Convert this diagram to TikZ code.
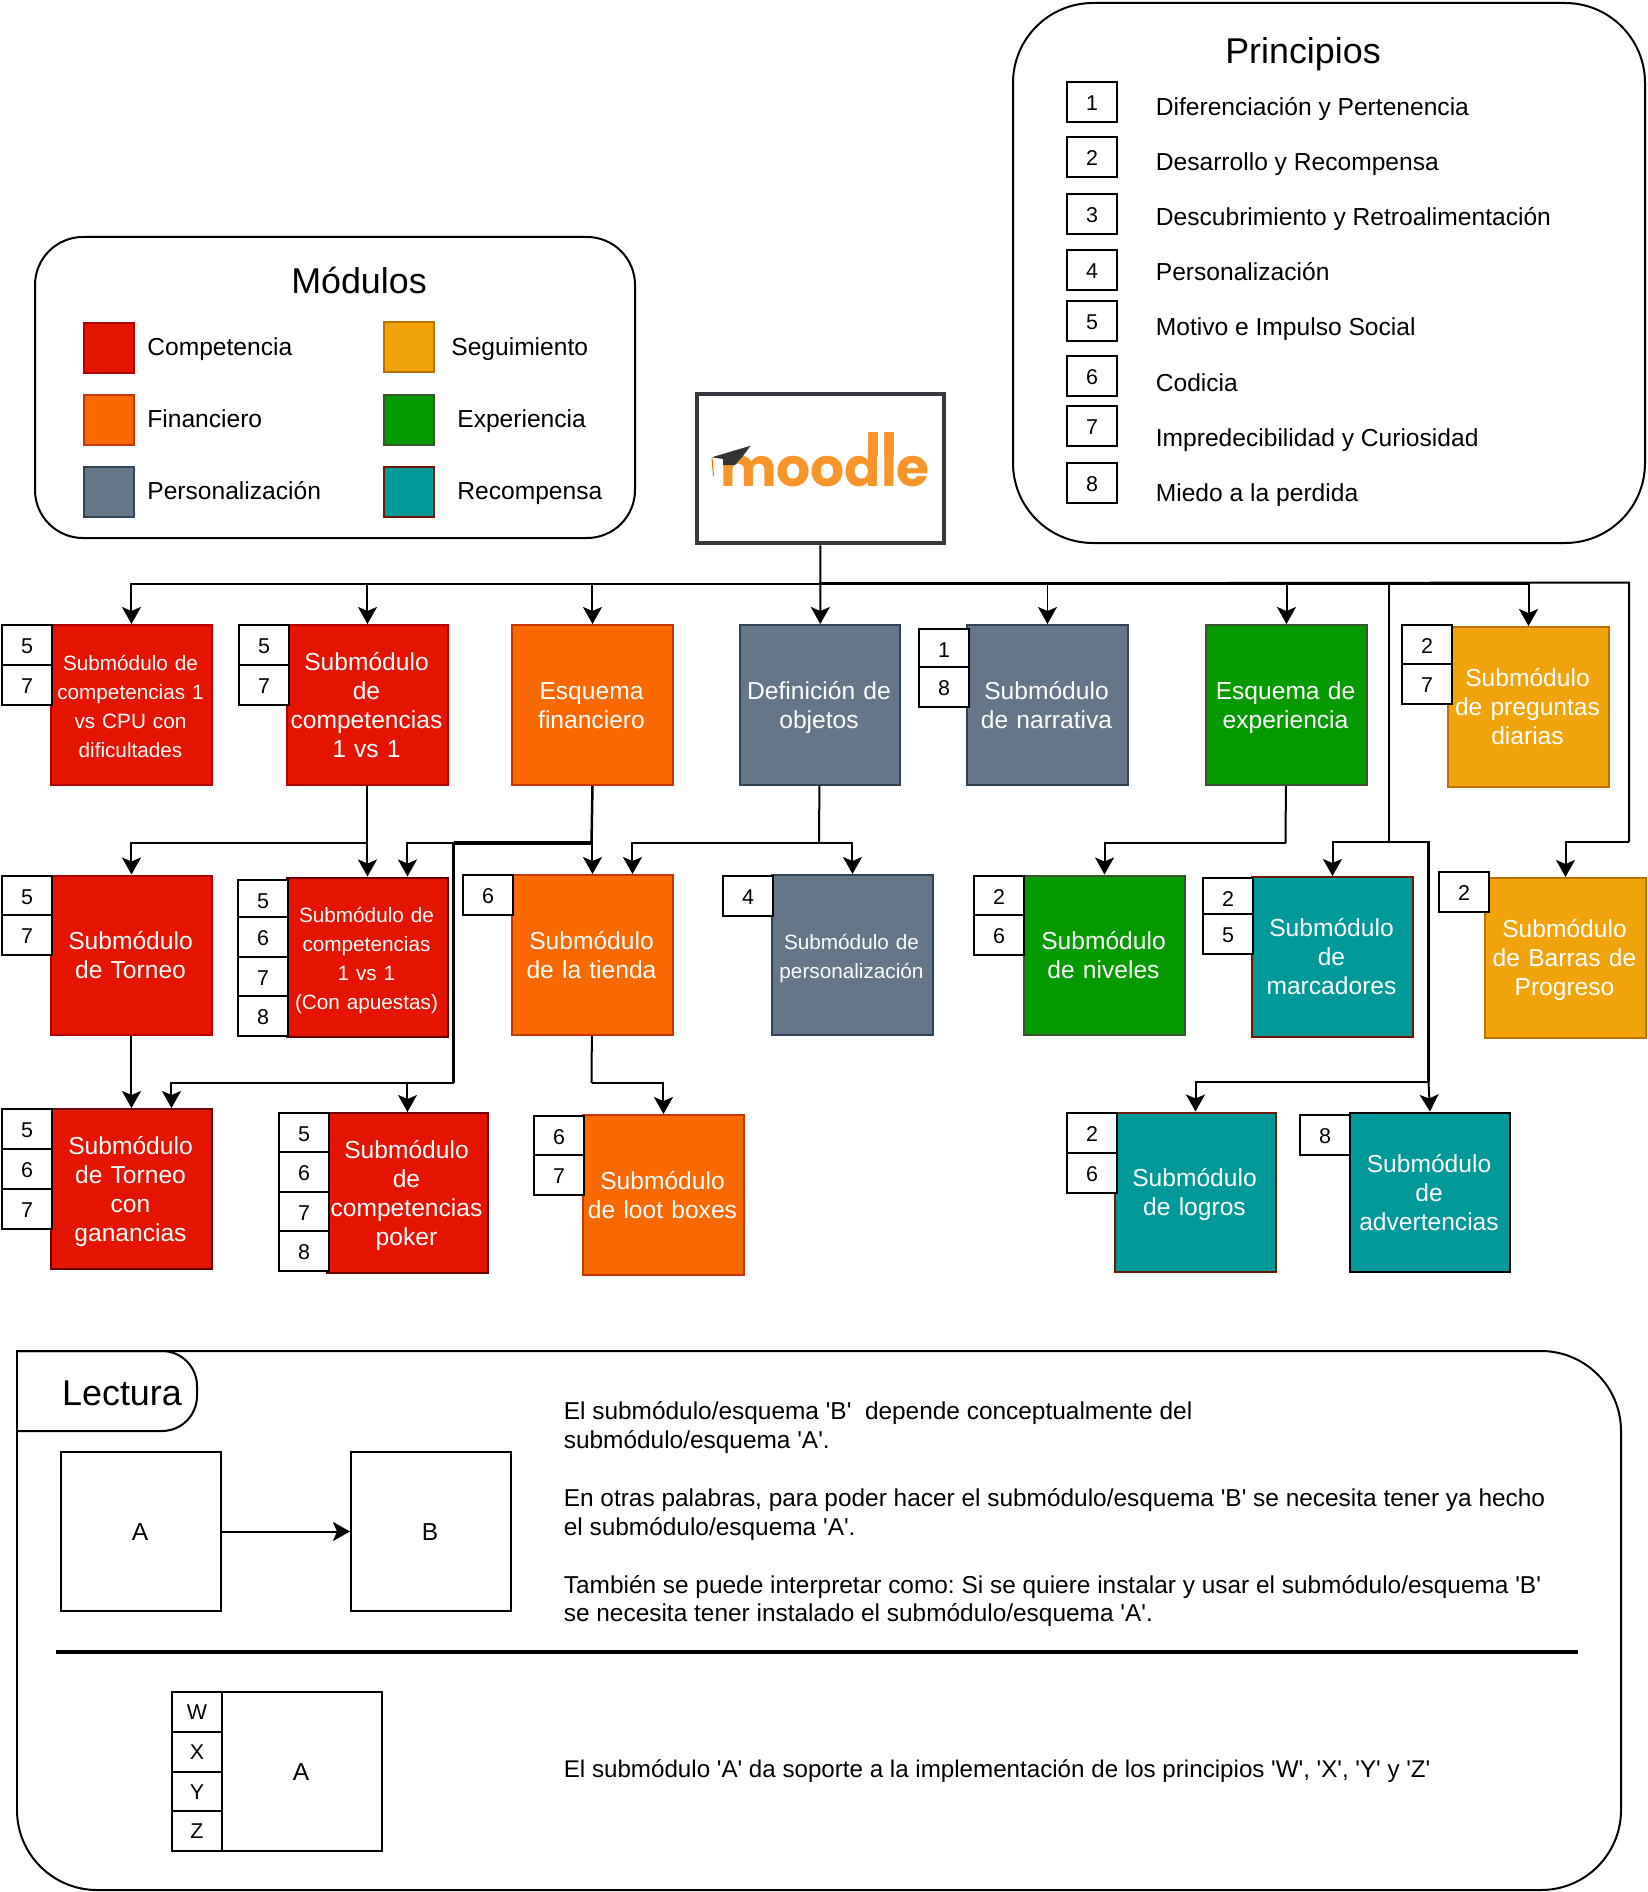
\documentclass[tikz,border=0pt]{standalone}
\usepackage{fontspec}
\usetikzlibrary{calc,arrows.meta}
\newfontfamily\drawfont{Liberation Sans}
\newfontfamily\logofont{Poppins}
\newcommand{\sizeText}{\fontsize{14}{16.44}\selectfont}
\newcommand{\sizeSmall}{\fontsize{11.8}{16.44}\selectfont}
\newcommand{\sizeBadge}{\fontsize{12.2}{16.44}\selectfont}
\newcommand{\sizeTitle}{\fontsize{20.4}{24}\selectfont}
\newcommand{\sizeLogo}{\logofont\bfseries\fontsize{30.4}{31}\selectfont}
\newlength{\logoW}
\newlength{\logoL}
\AtBeginDocument{\settowidth{\logoW}{\sizeLogo mood}\settowidth{\logoL}{\sizeLogo l}\drawfont\frenchspacing}
\definecolor{redF}{HTML}{E51400}\definecolor{redD}{HTML}{B20000}
\definecolor{oraF}{HTML}{FA6800}\definecolor{oraD}{HTML}{C73500}
\definecolor{gryF}{HTML}{647687}\definecolor{gryD}{HTML}{314354}
\definecolor{yelF}{HTML}{F0A30A}\definecolor{yelD}{HTML}{BD7000}
\definecolor{grnF}{HTML}{059B00}\definecolor{grnD}{HTML}{3A5431}
\definecolor{teaF}{HTML}{009999}\definecolor{teaD}{HTML}{6F1A00}
\definecolor{logoD}{HTML}{36393D}\definecolor{logoO}{HTML}{F8942A}
\tikzset{
	box/.style={draw,line width=0.04cm,anchor=north west,minimum width=3.22cm,minimum height=3.2cm,
		text width=3.18cm,align=center,inner sep=0pt,text=white,font=\sizeText,
		execute at begin node={\advance\rightskip by 0.04cm\rule{0pt}{0.45cm}},
		execute at end node={\rule[-0.1cm]{0pt}{0.1cm}}},
	boxred/.style={box,fill=redF,draw=redD},
	boxora/.style={box,fill=oraF,draw=oraD},
	boxgry/.style={box,fill=gryF,draw=gryD},
	boxyel/.style={box,fill=yelF,draw=yelD},
	boxgrn/.style={box,fill=grnF,draw=grnD},
	boxtea/.style={box,fill=teaF,draw=teaD},
	boxlec/.style={box,draw=black,text=black,minimum width=3.2cm,minimum height=3.2cm},
	badge/.style={draw,fill=white,line width=0.04cm,anchor=north west,minimum width=1cm,minimum height=0.8cm,
		inner sep=0pt,font=\sizeBadge,text height=0.34cm,text depth=0cm},
	swatch/.style={draw,line width=0.04cm,anchor=north west,minimum width=1.01cm,minimum height=1.01cm,inner sep=0pt},
	item/.style={anchor=base west,inner sep=0pt,font=\sizeText},
	title/.style={anchor=base,inner sep=0pt,font=\sizeTitle},
	panel/.style={line width=0.04cm,line cap=rect},
	wire/.style={line width=0.04cm},
	wirebold/.style={line width=0.07cm},
	link/.style={line width=0.04cm,-{Stealth[length=0.34cm,width=0.38cm,inset=0.08cm]}}
}
\begin{document}
\begin{tikzpicture}[x=0.02cm,y=-0.02cm]
	\useasboundingbox (0,0) rectangle (1648,1892);

	% principios
	\draw[panel,rounded corners=1.6cm] (1013,3) rectangle (1645,543);
	\node[title] (principios) at (1303,63.5) {Principios};
	\foreach \n/\y/\t/\ty in {1/81/Diferenciación y Pertenencia/115.2,2/136.5/Desarrollo y Recompensa/170.4,
		3/193/Descubrimiento y Retroalimentación/225.4,4/249/Personalización/280.4,
		5/300/Motivo e Impulso Social/335.4,6/355/Codicia/391.6,
		7/405/Impredecibilidad y Curiosidad/446.8,8/462/Miedo a la perdida/501}{
		\node[badge] (pri\n) at (1066,\y) {\n};
		\node[item] (prit\n) at (1155.5,\ty) {\t};
	}

	% modulos
	\draw[panel,rounded corners=0.96cm] (35,237) rectangle (635,538);
	\node[title] (modulos) at (359,293.5) {Módulos};
	\node[swatch,fill=redF,draw=redD] (leyRed) at (83,322) {};
	\node[swatch,fill=oraF,draw=oraD] (leyOra) at (83,394) {};
	\node[swatch,fill=gryF,draw=gryD] (leyGry) at (83,466) {};
	\node[swatch,fill=yelF,draw=yelD] (leyYel) at (382.5,321) {};
	\node[swatch,fill=grnF,draw=grnD] (leyGrn) at (382.5,394) {};
	\node[swatch,fill=teaF,draw=teaD] (leyTea) at (382.5,466) {};
	\node[item] (txtRed) at (147,355.5) {Competencia};
	\node[item] (txtOra) at (147,427.3) {Financiero};
	\node[item] (txtGry) at (147,499.3) {Personalización};
	\node[item] (txtYel) at (451,355.5) {Seguimiento};
	\node[item] (txtGrn) at (457,427.3) {Experiencia};
	\node[item] (txtTea) at (457,499.3) {Recompensa};

	% logo
	\node[draw=logoD,line width=0.08cm,minimum width=4.95cm,minimum height=3cm,anchor=north west,inner sep=0pt] (moodle) at (695,391.5) {};
	\node[inner sep=0pt,anchor=base west,text=logoO] (moodletxt) at (720,486) {\sizeLogo moodle};
	\coordinate (stemD) at ($(moodletxt.base west)+(\logoW-0.5\logoL,0)$);
	\coordinate (stemL) at ($(moodletxt.base west)+(\logoW+0.5\logoL,0)$);
	\fill[logoO] ($(stemD)+(-4.8,-54)$) rectangle ($(stemD)+(4.8,-30)$);
	\fill[logoO] ($(stemL)+(-4.8,-54)$) rectangle ($(stemL)+(4.8,-30)$);
	\draw[orange!80!red,line width=0.02cm] (712,458) -- (713.5,476);
	\fill[black!80] (711.7,457.3) -- (750.7,445.7) -- (743,456) -- (735,465) -- (723,465) -- (723,459) -- cycle;

	\begin{scope}[shift={(-1,-1)}]
	% fila 1
	\node[boxred,font=\sizeSmall] (cpu) at (51,625) {Submódulo de\\competencias 1\\vs CPU con\\dificultades};
	\node[boxred] (uno) at (287,625) {Submódulo\\de\\competencias\\1 vs 1};
	\node[boxora] (esqfin) at (512,625) {Esquema\\financiero};
	\node[boxgry] (defobj) at (739.5,625) {Definición de\\objetos};
	\node[boxgry] (narr) at (967,625) {Submódulo\\de narrativa};
	\node[boxgrn] (esqexp) at (1206,625) {Esquema de\\experiencia};
	\node[boxyel] (preg) at (1448,627) {Submódulo\\de preguntas\\diarias};
	\foreach \n/\y in {5/625,7/665} \node[badge] (cpu\n) at (2,\y) {\n};
	\foreach \n/\y in {5/625,7/665} \node[badge] (uno\n) at (239,\y) {\n};
	\foreach \n/\y in {1/629,8/667} \node[badge] (narr\n) at (919,\y) {\n};
	\foreach \n/\y in {2/625,7/664} \node[badge] (preg\n) at (1402,\y) {\n};

	% fila 2
	\node[boxred] (torneo) at (51,875.5) {Submódulo\\de Torneo};
	\node[boxred,draw=redD!60!black,font=\sizeSmall] (apuestas) at (287,877.5) {Submódulo de\\competencias\\1 vs 1\\(Con apuestas)};
	\node[boxora] (tienda) at (512,875) {Submódulo\\de la tienda};
	\node[boxgry,font=\sizeSmall] (pers) at (772,875) {Submódulo de\\personalización};
	\node[boxgrn] (niveles) at (1024,875.5) {Submódulo\\de niveles};
	\node[boxtea] (marc) at (1252,877) {Submódulo\\de\\marcadores};
	\node[boxyel] (barras) at (1485,878) {Submódulo\\de Barras de\\Progreso};
	\foreach \n/\y in {5/876,7/915} \node[badge] (tor\n) at (2,\y) {\n};
	\foreach \n/\y in {5/880,6/917,7/957,8/996} \node[badge] (apu\n) at (238,\y) {\n};
	\foreach \n/\y in {6/875} \node[badge] (tie\n) at (463,\y) {\n};
	\foreach \n/\y in {4/876} \node[badge] (per\n) at (723,\y) {\n};
	\foreach \n/\y in {2/876,6/915} \node[badge] (niv\n) at (974,\y) {\n};
	\foreach \n/\y in {2/877.5,5/914} \node[badge] (mar\n) at (1203,\y) {\n};
	\foreach \n/\y in {2/872} \node[badge] (bar\n) at (1439,\y) {\n};

	% fila 3
	\node[boxred,draw=redD!60!black] (ganan) at (51,1109) {Submódulo\\de Torneo\\con\\ganancias};
	\node[boxred,draw=redD!60!black] (poker) at (327,1113) {Submódulo\\de\\competencias\\poker};
	\node[boxora] (loot) at (583,1115) {Submódulo\\de loot boxes};
	\node[boxtea] (logros) at (1115,1112.5) {Submódulo\\de logros};
	\node[boxtea,draw=black] (adver) at (1349.5,1112.5) {Submódulo\\de\\advertencias};
	\foreach \n/\y in {5/1109,6/1149,7/1189} \node[badge] (gan\n) at (2,\y) {\n};
	\foreach \n/\y in {5/1113,6/1152,7/1192,8/1231} \node[badge] (pok\n) at (279,\y) {\n};
	\foreach \n/\y in {6/1115.5,7/1155} \node[badge] (loo\n) at (534,\y) {\n};
	\foreach \n/\y in {2/1113,6/1153} \node[badge] (log\n) at (1067,\y) {\n};
	\foreach \n/\y in {8/1115} \node[badge] (adv\n) at (1300,\y) {\n};
	\end{scope}

	% conectores
	\coordinate (trunk) at (819,583.5);
	\coordinate (barrasA) at (1629,582.5);
	\coordinate (barrasB) at (1629,842);
	\coordinate (ramaA) at (1389,583.5);
	\coordinate (ramaB) at (1389,842);
	\coordinate (ramaC) at (1428.5,842);
	\coordinate (ramaD) at (1428.5,1082);
	\coordinate (unoA) at (366.5,843);
	\coordinate (finA) at (591.5,843);
	\coordinate (finB) at (453.5,843);
	\coordinate (finC) at (453.5,1083);
	\coordinate (defA) at (819,843);
	\coordinate (expA) at (1285.5,843);
	\coordinate (tienA) at (591.5,1083);
	\coordinate (apuestasB) at ($(apuestas.north)+(40,0)$);
	\coordinate (tiendaB) at ($(tienda.north)+(40,0)$);
	\coordinate (gananB) at ($(ganan.north)+(40,0)$);

	\draw[link] (moodle) -- (defobj);
	\foreach \t in {cpu,uno,esqfin,narr,esqexp,preg}
		\draw[link] (trunk) -| (\t.north);
	\draw[wirebold] (trunk) -- (trunk-|preg.north);
	\draw[wire] (trunk) -- (barrasA) -- (barrasB);
	\draw[link] (barrasB) -| (barras.north);
	\draw[wire] (ramaA) -- (ramaB);
	\draw[link] (ramaB) -| (marc.north);
	\draw[wire,line width=0.05cm] (ramaB) -- (ramaC) -- (ramaD);
	\draw[link] (ramaD) -- (adver.north);
	\draw[link] (ramaD) -| (logros.north);

	\draw[link] (uno) -- (apuestas);
	\draw[link] (unoA) -| (torneo.north);
	\draw[link] (esqfin) -- (tienda);
	\draw[wire,line width=0.05cm] (esqfin.south) -- (finA);
	\draw[wirebold] (finA) -- (finB);
	\draw[link] (finB) -| (apuestasB);
	\draw[wirebold] (finB) -- (finC);
	\draw[link] (finC) -| (poker.north);
	\draw[link] (finC) -| (gananB);
	\draw[wire] (defobj) -- (defA);
	\draw[link] (defA) -| (tiendaB);
	\draw[link] (defA) -| (pers.north);
	\draw[wire] (esqexp) -- (expA);
	\draw[link] (expA) -| (niveles.north);
	\draw[link] (torneo) -- (ganan);
	\draw[wire] (tienda) -- (tienA);
	\draw[link] (tienA) -| (loot.north);

	% lectura
	\draw[panel,rounded corners=1.6cm] (17,1351) -- (1621,1351) -- (1621,1890) -- (17,1890) -- (17,1351);
	\draw[panel,rounded corners=0.7cm] (17,1351) -- (197,1351) -- (197,1431) -- (17,1431);
	\node[title] (lectura) at (122,1405.5) {Lectura};
	\node[boxlec] (lecA) at (60,1450.5) {A};
	\node[boxlec] (lecB) at (350,1450.5) {B};
	\draw[link] (lecA) -- (lecB);
	\node[inner sep=0pt,anchor=west,align=left,font=\fontsize{13.9}{16.44}\selectfont,
		execute at begin node={\rule{0pt}{0.4cm}},execute at end node={\rule[-0.1cm]{0pt}{0.1cm}}] (lecTxt) at (563.5,1514.4) {El submódulo/esquema 'B'\ \ depende conceptualmente del\\
		submódulo/esquema 'A'.\\[\baselineskip]
		En otras palabras, para poder hacer el submódulo/esquema 'B' se necesita tener ya hecho\\
		el submódulo/esquema 'A'.\\[\baselineskip]
		También se puede interpretar como: Si se quiere instalar y usar el submódulo/esquema 'B'\\
		se necesita tener instalado el submódulo/esquema 'A'.};
	\coordinate (sepA) at (56,1652);
	\coordinate (sepB) at (1578,1652);
	\draw[line width=0.08cm] (sepA) -- (sepB);
	\node[boxlec] (lecC) at (221,1690.5) {A};
	\foreach \n/\y in {W/1691,X/1731,Y/1770.5,Z/1810} \node[badge,text height=0.3cm] (lec\n) at (171,\y) {\n};
	\node[item,font=\fontsize{13.75}{16.44}\selectfont] (lecFin) at (563.5,1777.3) {El submódulo 'A' da soporte a la implementación de los principios 'W', 'X', 'Y' y 'Z'};
\end{tikzpicture}
\end{document}
